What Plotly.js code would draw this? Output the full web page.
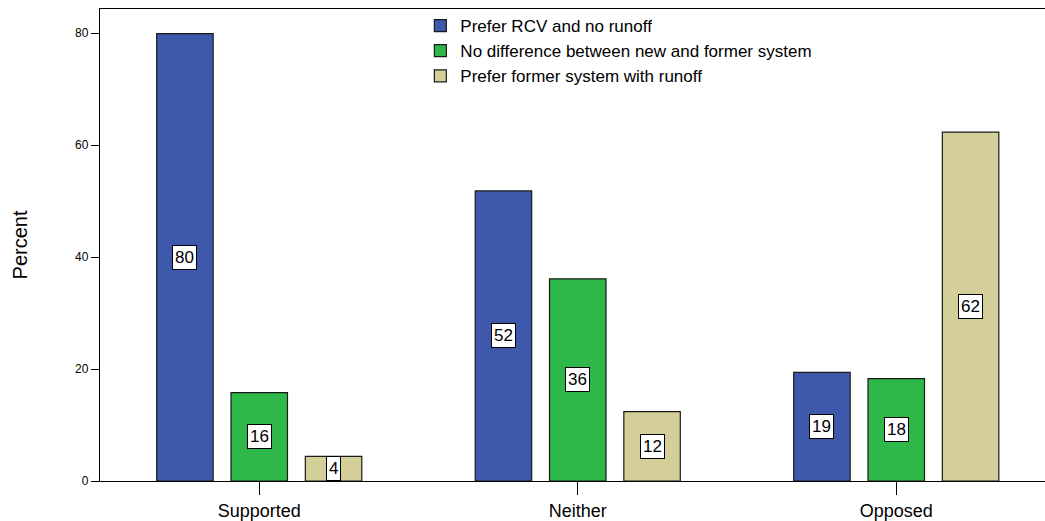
<!DOCTYPE html>
<html>
<head>
<meta charset="utf-8">
<script src="https://cdn.plot.ly/plotly-3.0.1.min.js"></script>
<style>html,body{margin:0;padding:0;background:#fff;}#chart{width:1045px;height:521px;}</style>
</head>
<body>
<div id="chart"></div>
<script>
const categories = ["Supported", "Neither", "Opposed"];
const seriesNames = ["Prefer RCV and no runoff", "No difference between new and former system", "Prefer former system with runoff"];
const preferRCV = [79.9, 51.8, 19.4];
const noDifference = [15.8, 36.1, 18.3];
const preferFormer = [4.4, 12.4, 62.3];
const yTicks = [0, 20, 40, 60, 80];
const colors = ["#3e58ac", "#2fb84a", "#d4cf98"];

const series = [preferRCV, noDifference, preferFormer];
const traces = series.map((vals, j) => ({
  type: "bar",
  name: seriesNames[j],
  x: categories,
  y: vals,
  marker: {color: colors[j], line: {color: "#1a1a1a", width: 1.2}},
  hoverinfo: "none"
}));

const bargap = 0.30;
const bargroupgap = 0.24;
const slot = (1 - bargap) / 3;
const annotations = [];
series.forEach((vals, j) => {
  vals.forEach((v, i) => {
    annotations.push({
      x: i + (j - 1) * slot,
      y: v / 2,
      xref: "x", yref: "y",
      text: String(Math.round(v)),
      showarrow: false,
      font: {family: "Liberation Sans, Arial, sans-serif", size: 17, color: "#000"},
      bgcolor: "#fff",
      bordercolor: "#000",
      borderwidth: 1,
      borderpad: 2
    });
  });
});

const layout = {
  width: 1045, height: 521,
  margin: {l: 100, r: 0, t: 9, b: 40},
  paper_bgcolor: "#fff", plot_bgcolor: "#fff",
  barmode: "group",
  bargap: bargap,
  bargroupgap: bargroupgap,
  font: {family: "Liberation Sans, Arial, sans-serif", color: "#000"},
  showlegend: true,
  legend: {
    x: 0.339, y: 1.002, xanchor: "left", yanchor: "top",
    bgcolor: "rgba(0,0,0,0)",
    font: {size: 17, color: "#000"},
    traceorder: "normal",
    tracegroupgap: 0
  },
  xaxis: {
    type: "category",
    range: [-0.5, 2.467],
    showline: true, linecolor: "#000", linewidth: 1.2,
    mirror: true,
    ticks: "outside", ticklen: 13, tickcolor: "#000", tickwidth: 1,
    tickfont: {size: 18, color: "#000"},
    showgrid: false, zeroline: false,
    fixedrange: true
  },
  yaxis: {
    range: [0, 84.3],
    tickvals: yTicks,
    ticktext: yTicks.map(String),
    showline: true, linecolor: "#000", linewidth: 1.2,
    ticks: "outside", ticklen: 8, tickcolor: "#000", tickwidth: 1,
    tickfont: {size: 12, color: "#000"},
    showgrid: false, zeroline: false,
    title: {text: "Percent", font: {size: 20, color: "#000"}, standoff: 42},
    automargin: false,
    fixedrange: true
  },
  annotations: annotations
};

Plotly.newPlot("chart", traces, layout, {displayModeBar: false, staticPlot: true});
</script>
</body>
</html>
